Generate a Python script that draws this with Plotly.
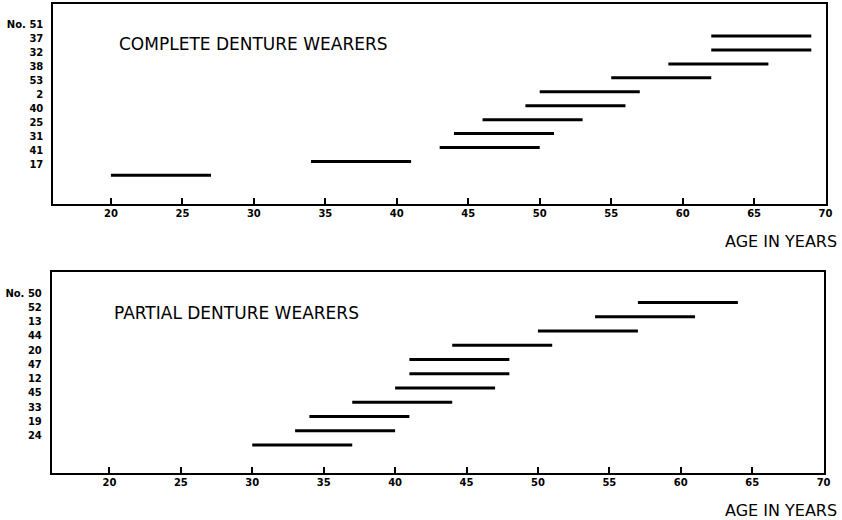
import plotly.graph_objects as go

# ---- data ----
complete_ids = ["No. 51", "37", "32", "38", "53", "2", "40", "25", "31", "41", "17"]
complete_start = [62, 62, 59, 55, 50, 49, 46, 44, 43, 34, 20]
complete_end = [69, 69, 66, 62, 57, 56, 53, 51, 50, 41, 27]

partial_ids = ["No. 50", "52", "13", "44", "20", "47", "12", "45", "33", "19", "24"]
partial_start = [57, 54, 50, 44, 41, 41, 40, 37, 34, 33, 30]
partial_end = [64, 61, 57, 51, 48, 48, 47, 44, 41, 40, 37]

age_ticks = [20, 25, 30, 35, 40, 45, 50, 55, 60, 65, 70]


def segments(starts, ends):
    n = len(starts)
    xs, ys = [], []
    for i, (s, e) in enumerate(zip(starts, ends)):
        row = n - 1 - i
        xs += [s, e, None]
        ys += [row, row, None]
    return xs, ys


fig = go.Figure()
xs, ys = segments(complete_start, complete_end)
fig.add_trace(go.Scatter(x=xs, y=ys, mode="lines", line=dict(color="black", width=3),
                         xaxis="x", yaxis="y", showlegend=False, hoverinfo="skip"))
xs, ys = segments(partial_start, partial_end)
fig.add_trace(go.Scatter(x=xs, y=ys, mode="lines", line=dict(color="black", width=3),
                         xaxis="x2", yaxis="y2", showlegend=False, hoverinfo="skip"))

FONT = "DejaVu Sans"
tickfont = dict(family=FONT, size=10, color="black", weight="bold")

xcommon = dict(range=[15.95, 70], tickvals=age_ticks, ticks="inside", ticklen=6, tickwidth=1.5,
               tickcolor="black", showline=True, linecolor="black", linewidth=1.5, mirror=True,
               showgrid=False, zeroline=False, tickfont=tickfont, fixedrange=True)

n1 = len(complete_ids)
n2 = len(partial_ids)
top_off = 0.8
bot_off = 0.65

fig.update_layout(
    width=842, height=520,
    margin=dict(l=0, r=0, t=0, b=0),
    paper_bgcolor="white", plot_bgcolor="white",
    xaxis=dict(domain=[53.5 / 842, 832.5 / 842], anchor="y", **xcommon),
    yaxis=dict(domain=[1 - 203.5 / 520, 1 - 4 / 520], anchor="x", range=[-2.02, 12.3],
               tickvals=[n1 - 1 - i + top_off for i in range(n1)], ticktext=complete_ids,
               ticks="", showline=True, linecolor="black", linewidth=1.5, mirror=True,
               showgrid=False, zeroline=False, tickfont=tickfont, ticklabelstandoff=6,
               fixedrange=True),
    xaxis2=dict(domain=[52 / 842, 830.5 / 842], anchor="y2", **xcommon),
    yaxis2=dict(domain=[1 - 472.5 / 520, 1 - 272.3 / 520], anchor="x2", range=[-1.93, 12.12],
                tickvals=[n2 - 1 - i + bot_off for i in range(n2)], ticktext=partial_ids,
                ticks="", showline=True, linecolor="black", linewidth=1.5, mirror=True,
                showgrid=False, zeroline=False, tickfont=tickfont, ticklabelstandoff=6,
                fixedrange=True),
)

title_font = dict(family=FONT, size=17, color="black")
axis_title_font = dict(family=FONT, size=16, color="black")
fig.add_annotation(text="COMPLETE DENTURE WEARERS", xref="paper", yref="paper",
                   x=118 / 842, y=1 - 44 / 520, xanchor="left", yanchor="middle",
                   showarrow=False, font=title_font)
fig.add_annotation(text="PARTIAL DENTURE WEARERS", xref="paper", yref="paper",
                   x=113 / 842, y=1 - 312.7 / 520, xanchor="left", yanchor="middle",
                   showarrow=False, font=title_font)
fig.add_annotation(text="AGE IN YEARS", xref="paper", yref="paper",
                   x=1, xshift=4, y=1 - 241.7 / 520, xanchor="right", yanchor="middle",
                   showarrow=False, font=axis_title_font)
fig.add_annotation(text="AGE IN YEARS", xref="paper", yref="paper",
                   x=1, xshift=4, y=1 - 510 / 520, xanchor="right", yanchor="middle",
                   showarrow=False, font=axis_title_font)

fig.write_html("out.html", config={"displayModeBar": False},
               post_script="document.body.style.margin='0';document.body.style.overflow='hidden';")
